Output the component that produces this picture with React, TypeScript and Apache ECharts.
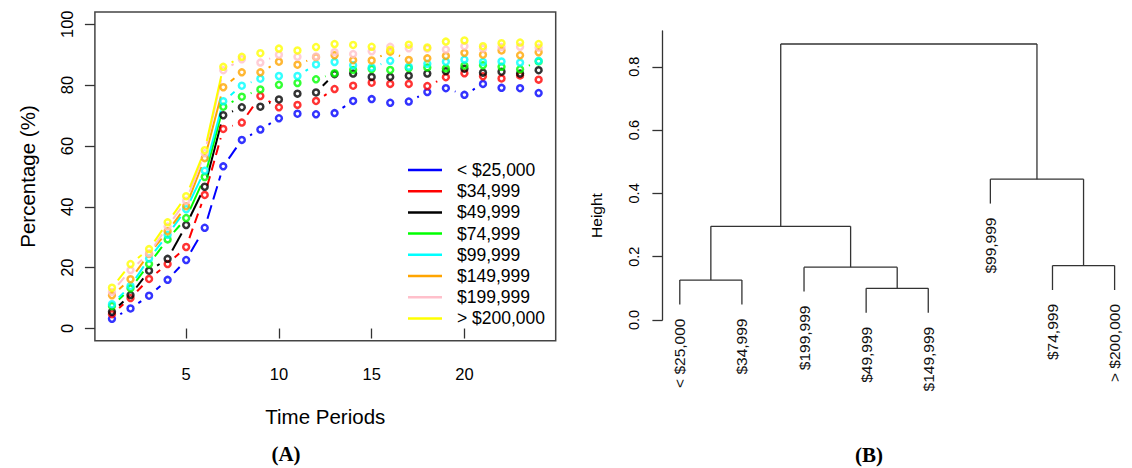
import React, { useEffect, useRef } from "react";
import * as echarts from "echarts";

// ---- Panel A: share of households over time, by income group ----
const periods = [1, 2, 3, 4, 5, 6, 7, 8, 9, 10, 11, 12, 13, 14, 15, 16, 17, 18, 19, 20, 21, 22, 23, 24];
const periodTicks = [5, 10, 15, 20];
const percentTicks = [0, 20, 40, 60, 80, 100];

const incomeGroups = ["< $25,000", "$34,999", "$49,999", "$74,999", "$99,999", "$149,999", "$199,999", "> $200,000"];

const under25k = [3.2, 6.6, 10.8, 16.0, 22.5, 33.1, 53.3, 62.0, 65.4, 69.1, 70.6, 70.4, 70.8, 74.8, 75.4, 74.2, 74.6, 77.7, 79.0, 76.8, 80.4, 79.1, 79.0, 77.4];
const upTo35k = [4.7, 10.0, 16.3, 21.2, 26.8, 43.9, 65.6, 67.7, 76.4, 72.7, 73.5, 74.8, 78.7, 79.8, 80.8, 80.4, 80.4, 79.7, 82.6, 83.9, 82.9, 82.2, 83.2, 81.8];
const upTo50k = [5.5, 11.0, 19.0, 22.9, 34.0, 46.6, 70.1, 72.7, 72.9, 75.3, 77.2, 77.6, 83.6, 83.8, 82.7, 82.7, 83.1, 83.8, 84.6, 85.4, 84.1, 84.4, 83.8, 84.9];
const upTo75k = [7.4, 13.2, 21.2, 29.3, 36.3, 49.8, 72.9, 76.2, 78.6, 80.1, 80.7, 81.9, 83.9, 85.0, 85.3, 85.0, 85.6, 85.8, 85.5, 86.4, 86.5, 86.0, 85.2, 87.8];
const upTo100k = [8.0, 14.0, 23.0, 30.8, 39.2, 51.9, 74.7, 79.8, 82.1, 83.0, 83.0, 86.8, 87.6, 86.5, 85.8, 88.0, 86.1, 87.0, 87.7, 88.4, 87.6, 87.8, 87.4, 88.0];
const upTo150k = [10.9, 16.2, 24.5, 32.0, 40.2, 56.0, 79.3, 84.2, 84.2, 87.7, 86.7, 89.2, 89.8, 88.2, 88.1, 91.0, 88.3, 88.8, 89.6, 90.6, 90.0, 91.4, 89.8, 90.8];
const upTo200k = [12.0, 19.2, 24.7, 33.5, 42.0, 57.6, 84.9, 88.5, 87.4, 90.0, 89.3, 89.4, 90.8, 90.2, 91.1, 92.6, 92.1, 92.0, 91.7, 92.8, 92.0, 92.5, 92.6, 92.3];
const over200k = [13.4, 21.2, 26.1, 34.9, 43.5, 58.6, 86.0, 89.3, 90.5, 92.0, 91.4, 92.5, 93.5, 93.2, 92.6, 91.6, 93.3, 92.4, 94.3, 94.7, 92.8, 93.8, 94.0, 93.5];

const groupValues = [under25k, upTo35k, upTo50k, upTo75k, upTo100k, upTo150k, upTo200k, over200k];

// ---- Panel B: hierarchical clustering of the income groups ----
const leafLabels = ["< $25,000", "$34,999", "$49,999", "$74,999", "$99,999", "$149,999", "$199,999", "> $200,000"];
// merge steps: negative = leaf index (1-based), positive = earlier merge step (1-based)
const mergePairs = [[-3, -6], [-1, -2], [-7, 1], [-4, -8], [2, 3], [-5, 4], [5, 6]];
const mergeHeights = [0.100, 0.126, 0.167, 0.172, 0.296, 0.445, 0.872];
const heightTicks = [0, 0.2, 0.4, 0.6, 0.8];

// ---- styling ----
const groupColors = ["#0000FF", "#FF0000", "#000000", "#00FF00", "#00FFFF", "#FFA500", "#FFC0CB", "#FFFF00"];
const groupDash: (number[] | null)[] = [[14, 6], [10, 6], null, null, null, null, null, null];
const SANS = "'Liberation Sans', Arial, Helvetica, sans-serif";
const SERIF = "'Liberation Serif', 'Times New Roman', serif";
const POINT_GAP = 9.5;

// leaf order and node positions of the dendrogram
const leafOrder: number[] = [];
const walk = (c: number) => {
  if (c < 0) leafOrder.push(-c);
  else {
    walk(mergePairs[c - 1][0]);
    walk(mergePairs[c - 1][1]);
  }
};
walk(mergePairs.length);
const leafPos: Record<number, number> = {};
leafOrder.forEach((leaf, k) => (leafPos[leaf] = k + 1));
const nodeX: number[] = [];
mergePairs.forEach(([a, b], i) => {
  const xa = a < 0 ? leafPos[-a] : nodeX[a - 1];
  const xb = b < 0 ? leafPos[-b] : nodeX[b - 1];
  nodeX[i] = (xa + xb) / 2;
});
const hang = 0.1 * (Math.max(...mergeHeights) - Math.min(...mergeHeights));

export default function App() {
  const ref = useRef<HTMLDivElement>(null);

  useEffect(() => {
    if (!ref.current) return;
    const chart = echarts.init(ref.current, undefined, { renderer: "svg" });

    const series: any[] = [];
    groupValues.forEach((vals, g) => {
      const color = groupColors[g];
      // connecting segments, broken around each point
      series.push({
        type: "custom",
        name: incomeGroups[g],
        coordinateSystem: "cartesian2d",
        xAxisIndex: 0,
        yAxisIndex: 0,
        data: periods.map((p, i) => [p, vals[i]]),
        encode: { x: 0, y: 1 },
        silent: true,
        renderItem: (params: any, api: any) => {
          const i = params.dataIndex;
          if (i >= vals.length - 1) return { type: "group", children: [] };
          const p0 = api.coord([periods[i], vals[i]]);
          const p1 = api.coord([periods[i + 1], vals[i + 1]]);
          const dx = p1[0] - p0[0];
          const dy = p1[1] - p0[1];
          const len = Math.hypot(dx, dy);
          if (len <= 2 * POINT_GAP + 0.5) return { type: "group", children: [] };
          const ux = dx / len;
          const uy = dy / len;
          return {
            type: "line",
            shape: {
              x1: p0[0] + ux * POINT_GAP,
              y1: p0[1] + uy * POINT_GAP,
              x2: p1[0] - ux * POINT_GAP,
              y2: p1[1] - uy * POINT_GAP,
            },
            style: {
              stroke: color,
              lineWidth: 2,
              lineDash: groupDash[g] || undefined,
              fill: null,
            },
          };
        },
      });
      // open circles at each period
      series.push({
        type: "scatter",
        name: incomeGroups[g],
        xAxisIndex: 0,
        yAxisIndex: 0,
        data: periods.map((p, i) => [p, vals[i]]),
        symbol: "circle",
        symbolSize: 5.9,
        itemStyle: { color: "rgba(0,0,0,0)", borderColor: color, borderWidth: 2.5 },
        silent: true,
      });
    });

    // dendrogram
    series.push({
      type: "custom",
      name: "dendrogram",
      coordinateSystem: "cartesian2d",
      xAxisIndex: 1,
      yAxisIndex: 1,
      data: mergePairs.map((_, i) => [nodeX[i], mergeHeights[i]]),
      encode: { x: 0, y: 1 },
      silent: true,
      renderItem: (params: any, api: any) => {
        const i = params.dataIndex;
        const h = mergeHeights[i];
        const children: any[] = [];
        const ends: number[][] = [];
        mergePairs[i].forEach((c) => {
          const isLeaf = c < 0;
          const cx = isLeaf ? leafPos[-c] : nodeX[c - 1];
          const cy = isLeaf ? h - hang : mergeHeights[c - 1];
          const bottom = api.coord([cx, cy]);
          const top = api.coord([cx, h]);
          ends.push(top);
          children.push({
            type: "line",
            shape: { x1: bottom[0], y1: bottom[1], x2: top[0], y2: top[1] },
            style: { stroke: "#333", lineWidth: 1.3 },
          });
          if (isLeaf) {
            children.push({
              type: "text",
              x: bottom[0],
              y: bottom[1] + 14,
              rotation: Math.PI / 2,
              style: {
                text: leafLabels[-c - 1],
                fill: "#111",
                font: `15.5px ${SANS}`,
                align: "right",
                verticalAlign: "middle",
              },
            });
          }
        });
        children.push({
          type: "line",
          shape: { x1: ends[0][0], y1: ends[0][1], x2: ends[1][0], y2: ends[1][1] },
          style: { stroke: "#333", lineWidth: 1.3 },
        });
        return { type: "group", children };
      },
    });

    const option: any = {
      animation: false,
      backgroundColor: "#ffffff",
      grid: [
        {
          left: 94.9,
          top: 12.1,
          width: 460.8,
          height: 328.6,
          show: true,
          borderColor: "#444",
          borderWidth: 1.5,
          backgroundColor: "rgba(0,0,0,0)",
        },
        { left: 662.4, top: 31, width: 483.8, height: 289, show: false },
      ],
      xAxis: [
        {
          gridIndex: 0,
          type: "value",
          min: 0.08,
          max: 24.92,
          splitLine: { show: false },
          axisLine: { show: false },
          axisTick: { show: true, length: 10, customValues: periodTicks, lineStyle: { color: "#333", width: 1.3 } },
          axisLabel: {
            customValues: periodTicks,
            margin: 25,
            fontSize: 16.5,
            fontFamily: SANS,
            color: "#000",
          },
        },
        { gridIndex: 1, type: "value", min: 0.72, max: 8.28, show: false },
      ],
      yAxis: [
        {
          gridIndex: 0,
          type: "value",
          min: -4,
          max: 104,
          splitLine: { show: false },
          axisLine: { show: false },
          axisTick: { show: true, length: 10, customValues: percentTicks, lineStyle: { color: "#333", width: 1.3 } },
          axisLabel: {
            customValues: percentTicks,
            rotate: 90,
            margin: 19.5,
            fontSize: 16.5,
            fontFamily: SANS,
            color: "#000",
          },
        },
        {
          gridIndex: 1,
          type: "value",
          min: 0,
          max: 0.913,
          splitLine: { show: false },
          axisLine: { show: true, lineStyle: { color: "#333", width: 1.3 } },
          axisTick: { show: true, length: 10, customValues: heightTicks, lineStyle: { color: "#333", width: 1.3 } },
          axisLabel: {
            customValues: heightTicks,
            rotate: 90,
            margin: 20.5,
            fontSize: 14.5,
            fontFamily: SANS,
            color: "#000",
            formatter: (v: number) => v.toFixed(1),
          },
        },
      ],
      legend: {
        data: incomeGroups.map((n, i) => ({
          name: n,
          icon: "rect",
          itemStyle: { color: groupColors[i], borderWidth: 0, borderColor: groupColors[i] },
        })),
        orient: "vertical",
        left: 408,
        top: 159.4,
        itemWidth: 34,
        itemHeight: 2.5,
        itemGap: 0,
        selectedMode: false,
        padding: 0,
        textStyle: {
          fontSize: 17.5,
          fontFamily: SANS,
          color: "#000",
          lineHeight: 21.2,
          padding: [0, 0, 0, 10],
        },
      },
      graphic: [
        {
          type: "text",
          x: 27,
          y: 176.5,
          rotation: Math.PI / 2,
          style: { text: "Percentage (%)", font: `20.5px ${SANS}`, fill: "#000", align: "center", verticalAlign: "middle" },
        },
        {
          type: "text",
          x: 325.3,
          y: 416,
          style: { text: "Time Periods", font: `20.5px ${SANS}`, fill: "#000", align: "center", verticalAlign: "middle" },
        },
        {
          type: "text",
          x: 286,
          y: 454,
          style: { text: "(A)", font: `bold 21px ${SERIF}`, fill: "#000", align: "center", verticalAlign: "middle" },
        },
        {
          type: "text",
          x: 596,
          y: 215.5,
          rotation: Math.PI / 2,
          style: { text: "Height", font: `15.5px ${SANS}`, fill: "#000", align: "center", verticalAlign: "middle" },
        },
        {
          type: "text",
          x: 869,
          y: 455,
          style: { text: "(B)", font: `bold 21px ${SERIF}`, fill: "#000", align: "center", verticalAlign: "middle" },
        },
      ],
      series,
    };

    chart.setOption(option);
    return () => chart.dispose();
  }, []);

  return (
    <div
      ref={ref}
      style={{ position: "fixed", left: 0, top: 0, width: 1132, height: 468, background: "#fff" }}
    />
  );
}
